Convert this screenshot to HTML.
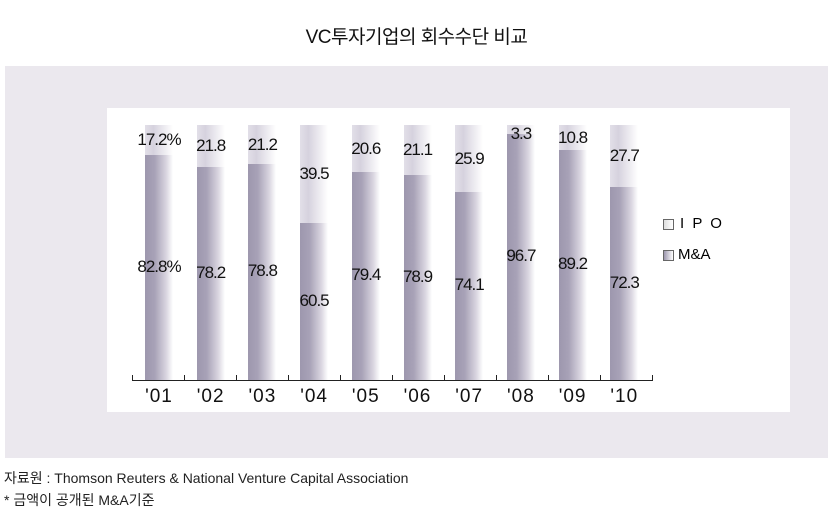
<!DOCTYPE html>
<html><head><meta charset="utf-8"><style>
body{margin:0;width:833px;height:511px;background:#fff;position:relative;font-family:"Liberation Sans","Noto Sans CJK KR",sans-serif;overflow:hidden}
.a{position:absolute}
.t{left:0;width:833px;top:22px;text-align:center;font-size:19px;color:#111;letter-spacing:-0.5px}
.bar{position:absolute;width:28px;top:125px;height:255px;background:linear-gradient(90deg,#e2dfe8,#d6d2de 30%,#fff 100%)}
.ma{position:absolute;left:0;right:0;bottom:0;background:linear-gradient(90deg,#9d97ae,#a8a2b7 35%,#d8d4df 75%,#fff)}
.lb{position:absolute;font-size:17px;color:#111;letter-spacing:-1px;width:60px;text-align:center}
.x{position:absolute;top:386px;font-size:19px;color:#111;width:52px;text-align:center;letter-spacing:1px}
</style></head><body>
<div class="a t">VC투자기업의 회수수단 비교</div>
<div class="a" style="left:5px;top:66px;width:823px;height:392px;background:#ebe8ee"></div>
<div class="a" style="left:107px;top:108px;width:683px;height:304px;background:#fff"></div>
<div class="a" style="left:132px;top:380px;width:520px;height:1px;background:#222"></div>
<div id="c"></div>
<div class="a" style="left:663px;top:219px;width:9px;height:9px;border:1px solid #666;background:linear-gradient(90deg,#ddd,#fff)"></div>
<div class="a" style="left:680px;top:215px;font-size:15px;letter-spacing:2px">I P O</div>
<div class="a" style="left:663px;top:250px;width:9px;height:9px;border:1px solid #666;background:linear-gradient(90deg,#9d97ae,#fff)"></div>
<div class="a" style="left:678px;top:246px;font-size:15px">M&amp;A</div>
<div class="a" style="left:4px;top:468px;font-size:14px;color:#222">자료원 : Thomson Reuters &amp; National Venture Capital Association</div>
<div class="a" style="left:4px;top:490px;font-size:14px;color:#222">* 금액이 공개된 M&amp;A기준</div>
<script>
var d=[["'01","17.2%","82.8%",155],["'02","21.8","78.2",167],["'03","21.2","78.8",164],["'04","39.5","60.5",223],["'05","20.6","79.4",172],["'06","21.1","78.9",175],["'07","25.9","74.1",192],["'08","3.3","96.7",134],["'09","10.8","89.2",150],["'10","27.7","72.3",187]];
var h="";
for(var i=0;i<11;i++)h+='<div class="a" style="left:'+(132+52*i)+'px;top:375px;width:1px;height:6px;background:#222"></div>';
d.forEach(function(r,i){var x=145+51.7*i,b=r[3];
h+='<div class="bar" style="left:'+x+'px"><div class="ma" style="height:'+(380-b)+'px"></div></div>';
var ty=Math.max(124,(125+b)/2-10);
h+='<div class="lb" style="left:'+(x-16)+'px;top:'+ty+'px">'+r[1]+'</div>';
h+='<div class="lb" style="left:'+(x-16)+'px;top:'+((b+380)/2-11)+'px">'+r[2]+'</div>';
h+='<div class="x" style="left:'+(x-12)+'px">'+r[0]+'</div>';});
document.getElementById("c").innerHTML=h;
</script>
</body></html>
